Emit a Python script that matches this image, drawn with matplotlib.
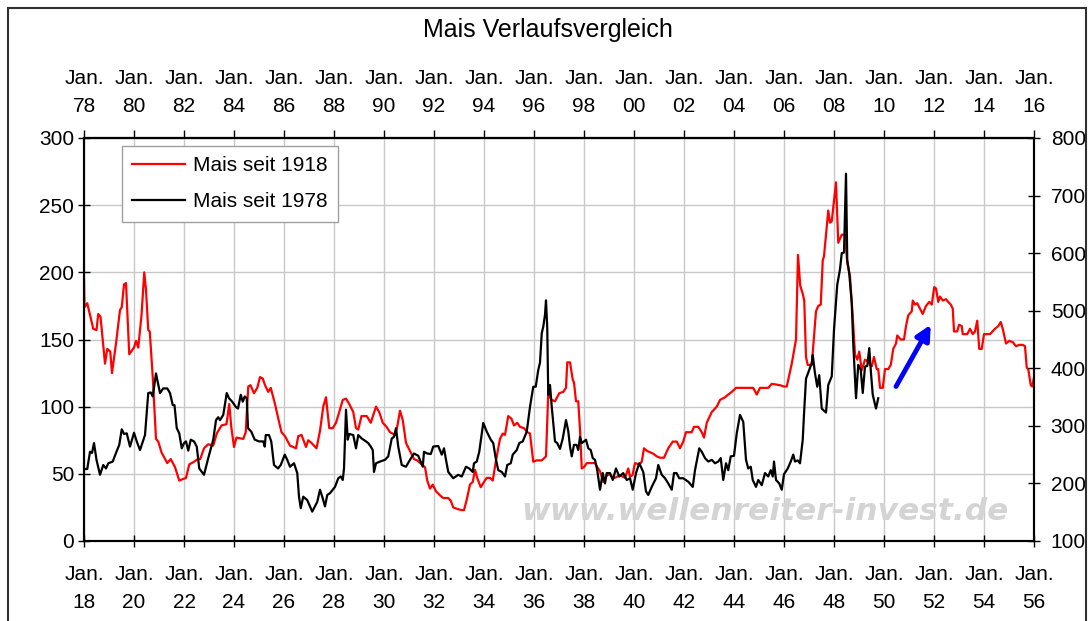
import matplotlib
matplotlib.use('Agg')
import numpy as np
import matplotlib.pyplot as plt
from matplotlib.patches import Rectangle

plt.rcParams['font.family'] = ['Liberation Sans', 'DejaVu Sans']

# ==================== Daten ====================
# Mais seit 1918 (linke Achse), Zeit in Jahren
red_t = [1918.00, 1918.02, 1918.13, 1918.37, 1918.50, 1918.57, 1918.66, 1918.84, 1918.93, 1919.05,
         1919.12, 1919.28, 1919.44, 1919.51, 1919.60, 1919.68, 1919.81, 1920.00, 1920.08, 1920.17,
         1920.30, 1920.41, 1920.48, 1920.57, 1920.63, 1920.75, 1920.88, 1920.97, 1921.10, 1921.33,
         1921.47, 1921.64, 1921.81, 1922.08, 1922.21, 1922.40, 1922.55, 1922.65, 1922.80, 1922.97,
         1923.17, 1923.31, 1923.50, 1923.70, 1923.81, 1923.89, 1924.00, 1924.10, 1924.37, 1924.47,
         1924.57, 1924.66, 1924.80, 1924.93, 1925.04, 1925.15, 1925.24, 1925.37, 1925.47, 1925.64,
         1925.81, 1925.90, 1926.04, 1926.24, 1926.48, 1926.57, 1926.70, 1926.88, 1926.97, 1927.10,
         1927.30, 1927.44, 1927.57, 1927.68, 1927.81, 1927.95, 1928.08, 1928.21, 1928.35, 1928.48,
         1928.61, 1928.77, 1928.88, 1928.97, 1929.10, 1929.31, 1929.47, 1929.68, 1929.81, 1929.95,
         1930.10, 1930.24, 1930.44, 1930.52, 1930.64, 1930.75, 1930.88, 1931.04, 1931.20, 1931.33,
         1931.51, 1931.64, 1931.73, 1931.84, 1931.95, 1932.08, 1932.24, 1932.37, 1932.57, 1932.67,
         1932.77, 1932.91, 1933.10, 1933.20, 1933.30, 1933.44, 1933.55, 1933.64, 1933.73, 1933.87,
         1934.00, 1934.11, 1934.24, 1934.35, 1934.48, 1934.64, 1934.75, 1934.84, 1934.97, 1935.10,
         1935.20, 1935.33, 1935.44, 1935.60, 1935.73, 1935.84, 1935.97, 1936.10, 1936.31, 1936.48,
         1936.57, 1936.64, 1936.71, 1936.84, 1937.01, 1937.17, 1937.28, 1937.33, 1937.44, 1937.55,
         1937.60, 1937.68, 1937.77, 1937.84, 1937.91, 1938.00, 1938.11, 1938.30, 1938.44, 1938.53,
         1938.64, 1938.77, 1938.88, 1939.01, 1939.11, 1939.24, 1939.44, 1939.64, 1939.77, 1939.84,
         1939.94, 1940.04, 1940.21, 1940.31, 1940.40, 1940.53, 1940.77, 1940.91, 1941.04, 1941.20,
         1941.37, 1941.55, 1941.71, 1941.84, 1941.97, 1942.08, 1942.31, 1942.40, 1942.57, 1942.71,
         1942.80, 1942.91, 1943.11, 1943.31, 1943.44, 1943.64, 1943.77, 1943.91, 1944.08, 1944.77,
         1944.91, 1945.04, 1945.37, 1945.51, 1945.84, 1946.00, 1946.11, 1946.31, 1946.48, 1946.56,
         1946.65, 1946.75, 1946.81, 1946.88, 1946.95, 1947.11, 1947.28, 1947.37, 1947.47, 1947.55,
         1947.60, 1947.77, 1947.84, 1947.91, 1948.08, 1948.17, 1948.31, 1948.44, 1948.53, 1948.64,
         1948.75, 1948.84, 1948.93, 1949.01, 1949.11, 1949.24, 1949.33, 1949.51, 1949.60, 1949.71,
         1949.77, 1949.84, 1949.95, 1950.04, 1950.17, 1950.27, 1950.37, 1950.48, 1950.53, 1950.67,
         1950.80, 1950.88, 1950.97, 1951.11, 1951.15, 1951.24, 1951.33, 1951.41, 1951.55, 1951.68,
         1951.81, 1951.91, 1952.01, 1952.08, 1952.17, 1952.24, 1952.35, 1952.48, 1952.57, 1952.67,
         1952.75, 1952.80, 1952.93, 1953.00, 1953.11, 1953.15, 1953.33, 1953.44, 1953.55, 1953.64,
         1953.73, 1953.81, 1953.91, 1954.00, 1954.24, 1954.44, 1954.57, 1954.67, 1954.75, 1954.88,
         1955.01, 1955.15, 1955.28, 1955.41, 1955.55, 1955.64, 1955.71, 1955.77, 1955.87, 1955.93,
         1956.00]
red_v = [195, 174, 177, 158, 157, 169, 167, 132, 143, 141,
         125, 147, 172, 174, 191, 192, 139, 144, 149, 144,
         168, 200, 187, 157, 156, 122, 76, 74, 66, 58,
         61, 55, 45, 47, 57, 59, 61, 61, 69, 72,
         71, 80, 86, 87, 102, 85, 70, 77, 76, 81,
         115, 116, 110, 114, 122, 121, 116, 111, 114, 102,
         88, 81, 78, 71, 69, 78, 79, 70, 75, 73,
         69, 82, 100, 107, 84, 84, 88, 96, 105, 106,
         102, 96, 84, 83, 93, 93, 88, 100, 96, 88,
         85, 81, 79, 84, 97, 90, 73, 67, 61, 60,
         57, 55, 45, 39, 42, 37, 34, 32, 32, 30,
         25, 24, 23, 23, 30, 42, 44, 53, 47, 40,
         44, 47, 47, 45, 60, 76, 80, 79, 93, 91,
         86, 88, 85, 84, 81, 80, 59, 60, 60, 63,
         110, 107, 105, 104, 110, 111, 114, 133, 133, 120,
         118, 104, 104, 83, 54, 55, 58, 58, 58, 55,
         52, 44, 48, 50, 48, 47, 49, 47, 54, 48,
         49, 58, 57, 59, 69, 67, 65, 63, 62, 62,
         69, 74, 74, 69, 74, 81, 81, 85, 85, 81,
         77, 88, 96, 100, 105, 107, 109, 111, 114, 114,
         109, 114, 114, 117, 116, 115, 115, 132, 150, 213,
         190, 184, 179, 137, 131, 131, 171, 175, 176, 209,
         212, 246, 237, 238, 267, 222, 228, 228, 207, 197,
         167, 139, 135, 141, 127, 135, 134, 130, 137, 128,
         128, 114, 114, 128, 128, 131, 143, 147, 153, 150,
         150, 160, 168, 171, 179, 176, 177, 174, 169, 175,
         178, 176, 189, 188, 178, 182, 179, 180, 178, 176,
         173, 156, 156, 161, 160, 154, 154, 158, 154, 156,
         164, 143, 143, 154, 154, 158, 160, 163, 158, 147,
         149, 148, 145, 146, 146, 145, 129, 128, 116, 115,
         122]

# Mais seit 1978 (rechte Achse), Zeit in Jahren
blk_t = [1978.00, 1978.13, 1978.24, 1978.32, 1978.40, 1978.50, 1978.64, 1978.77, 1978.88, 1978.97,
         1979.15, 1979.28, 1979.41, 1979.51, 1979.60, 1979.71, 1979.84, 1980.00, 1980.11, 1980.24,
         1980.44, 1980.57, 1980.67, 1980.75, 1980.88, 1981.04, 1981.17, 1981.33, 1981.44, 1981.55,
         1981.62, 1981.71, 1981.81, 1981.91, 1982.00, 1982.08, 1982.17, 1982.27, 1982.40, 1982.51,
         1982.61, 1982.80, 1982.97, 1983.17, 1983.28, 1983.37, 1983.44, 1983.57, 1983.71, 1983.80,
         1983.93, 1984.07, 1984.16, 1984.27, 1984.35, 1984.43, 1984.51, 1984.56, 1984.69, 1984.83,
         1985.00, 1985.17, 1985.23, 1985.27, 1985.40, 1985.49, 1985.60, 1985.76, 1985.87, 1986.03,
         1986.13, 1986.24, 1986.40, 1986.53, 1986.60, 1986.67, 1986.77, 1986.93, 1987.13, 1987.33,
         1987.44, 1987.53, 1987.64, 1987.73, 1987.84, 1987.95, 1988.04, 1988.17, 1988.27, 1988.35,
         1988.40, 1988.48, 1988.55, 1988.61, 1988.77, 1988.88, 1988.97, 1989.11, 1989.28, 1989.37,
         1989.47, 1989.55, 1989.60, 1989.68, 1989.84, 1990.04, 1990.17, 1990.31, 1990.40, 1990.48,
         1990.57, 1990.71, 1990.88, 1991.04, 1991.20, 1991.37, 1991.55, 1991.60, 1991.73, 1991.87,
         1991.97, 1992.17, 1992.31, 1992.40, 1992.48, 1992.57, 1992.77, 1992.97, 1993.11, 1993.28,
         1993.41, 1993.55, 1993.60, 1993.71, 1993.81, 1993.97, 1994.11, 1994.27, 1994.37, 1994.48,
         1994.57, 1994.71, 1994.84, 1994.93, 1995.07, 1995.15, 1995.31, 1995.41, 1995.55, 1995.71,
         1995.84, 1995.97, 1996.07, 1996.17, 1996.24, 1996.31, 1996.37, 1996.44, 1996.48, 1996.53,
         1996.57, 1996.64, 1996.71, 1996.84, 1996.93, 1997.04, 1997.15, 1997.28, 1997.37, 1997.44,
         1997.51, 1997.60, 1997.70, 1997.77, 1997.84, 1997.91, 1998.00, 1998.08, 1998.17, 1998.27,
         1998.35, 1998.44, 1998.53, 1998.64, 1998.75, 1998.84, 1998.91, 1999.04, 1999.15, 1999.28,
         1999.41, 1999.57, 1999.71, 1999.84, 1999.95, 2000.08, 2000.21, 2000.37, 2000.48, 2000.57,
         2000.71, 2000.88, 2000.97, 2001.11, 2001.24, 2001.37, 2001.51, 2001.60, 2001.70, 2001.81,
         2001.97, 2002.17, 2002.35, 2002.44, 2002.61, 2002.71, 2002.84, 2002.97, 2003.11, 2003.24,
         2003.37, 2003.47, 2003.57, 2003.68, 2003.77, 2003.87, 2004.00, 2004.11, 2004.24, 2004.37,
         2004.48, 2004.57, 2004.67, 2004.75, 2004.88, 2004.97, 2005.11, 2005.24, 2005.37, 2005.47,
         2005.55, 2005.60, 2005.68, 2005.81, 2005.91, 2006.00, 2006.15, 2006.27, 2006.37, 2006.44,
         2006.55, 2006.64, 2006.75, 2006.80, 2006.88, 2007.01, 2007.11, 2007.15, 2007.24, 2007.33,
         2007.41, 2007.51, 2007.68, 2007.77, 2007.91, 2008.00, 2008.13, 2008.24, 2008.31, 2008.40,
         2008.48, 2008.53, 2008.61, 2008.71, 2008.77, 2008.88, 2008.97, 2009.07, 2009.15, 2009.24,
         2009.33, 2009.41, 2009.47, 2009.55, 2009.68, 2009.77]
blk_v = [225, 225, 255, 253, 270, 241, 215, 232, 226, 235,
         238, 253, 267, 294, 286, 287, 264, 288, 273, 258,
         284, 357, 358, 351, 391, 357, 365, 365, 357, 336,
         336, 296, 287, 261, 270, 273, 257, 276, 273, 264,
         226, 215, 244, 276, 310, 315, 310, 319, 357, 348,
         342, 333, 330, 354, 342, 351, 348, 296, 290, 276,
         273, 273, 264, 284, 284, 273, 232, 226, 232, 250,
         241, 229, 235, 218, 177, 157, 177, 171, 151, 168,
         189, 177, 160, 180, 183, 189, 194, 209, 212, 206,
         226, 328, 276, 286, 284, 261, 284, 278, 273, 270,
         264, 258, 220, 235, 238, 241, 247, 278, 281, 296,
         264, 232, 229, 241, 252, 248, 229, 255, 252, 251,
         264, 265, 250, 261, 241, 220, 209, 215, 212, 229,
         226, 220, 235, 238, 255, 305, 290, 276, 270, 241,
         223, 220, 212, 232, 235, 250, 258, 270, 273, 290,
         333, 368, 368, 397, 410, 461, 472, 493, 518, 470,
         354, 371, 333, 273, 270, 260, 278, 310, 291, 264,
         247, 267, 267, 258, 281, 270, 273, 276, 261, 258,
         244, 241, 223, 189, 218, 200, 218, 218, 206, 226,
         212, 218, 206, 209, 189, 218, 235, 220, 186, 180,
         194, 209, 232, 215, 209, 200, 189, 218, 218, 209,
         209, 203, 194, 223, 261, 255, 244, 238, 241, 235,
         238, 244, 206, 235, 223, 247, 248, 287, 319, 307,
         241, 226, 229, 206, 194, 206, 197, 218, 212, 223,
         212, 238, 206, 200, 189, 216, 226, 238, 250, 238,
         240, 235, 276, 320, 382, 397, 409, 423, 391, 368,
         388, 330, 323, 371, 386, 467, 545, 572, 600, 601,
         738, 588, 565, 513, 443, 348, 406, 397, 357, 403,
         404, 435, 397, 354, 330, 348]

bottom_years = list(range(1918, 1957, 2))
top_years = list(range(1978, 2017, 2))
bottom_labels = ['Jan.\n%02d' % (y % 100) for y in bottom_years]
top_labels = ['Jan.\n%02d' % (y % 100) for y in top_years]
offset = 60  # 1978-Verlauf gegen 1918-Verlauf verschoben

# ==================== Grafik ====================
fig = plt.figure(figsize=(10.88, 6.21), dpi=100)
ax = fig.add_axes([84 / 1088, 80 / 621, 950 / 1088, 403 / 621])
ax2 = ax.twinx()

fs = 15

ax.plot(red_t, red_v, color='#ff0000', lw=1.6, label='Mais seit 1918', zorder=3)
ax2.plot(np.array(blk_t) - offset, blk_v, color='black', lw=1.6, label='Mais seit 1978', zorder=3)

ax.set_xlim(1918, 1956)
ax.set_ylim(0, 300)
ax.set_yticks(range(0, 301, 50))
ax2.set_ylim(100, 800)
ax2.set_yticks(range(100, 801, 100))

ax.set_xticks(bottom_years)
ax.set_xticklabels(bottom_labels, fontsize=fs, linespacing=1.6)
ax.tick_params(axis='x', direction='inout', length=8, width=1, pad=13)
ax.tick_params(axis='y', direction='inout', length=8, width=1, pad=3, labelsize=fs)
ax2.tick_params(axis='y', direction='inout', length=8, width=1, pad=8, labelsize=fs)

top = ax.secondary_xaxis('top', functions=(lambda x: x + offset, lambda x: x - offset))
top.set_xticks(top_years)
top.set_xticklabels(top_labels, fontsize=fs, linespacing=1.6)
top.tick_params(axis='x', direction='out', length=6, width=1, pad=10)

ax.grid(True, color='#c8c8c8', lw=1)
ax.set_axisbelow(True)
for a in (ax, ax2):
    for s in a.spines.values():
        s.set_linewidth(1.5)
top.spines['top'].set_linewidth(1.5)

# Wasserzeichen
ax.text(0.717, 0.072, 'www.wellenreiter-invest.de', transform=ax.transAxes,
        fontsize=22.5, style='italic', weight='bold', family='DejaVu Sans', color='#d4d4d4',
        ha='center', va='center', zorder=1)

# Pfeil
ax.annotate('', xy=(1951.87, 161), xytext=(1950.48, 115),
            arrowprops=dict(arrowstyle='-|>', color='#0000ff', lw=3.5,
                            mutation_scale=22, shrinkA=0, shrinkB=0), zorder=4)

# Legende
h1, l1 = ax.get_legend_handles_labels()
h2, l2 = ax2.get_legend_handles_labels()
leg = ax2.legend(h1 + h2, l1 + l2, loc='upper left', bbox_to_anchor=(0.04, 0.98),
                 borderaxespad=0, fontsize=fs, frameon=True, fancybox=False,
                 edgecolor='#a0a0a0', framealpha=1, handlelength=2.5,
                 handletextpad=0.4, labelspacing=0.8, borderpad=0.5)
leg.get_frame().set_linewidth(1)

fig.text(548 / 1088, 1 - 30 / 621, 'Mais Verlaufsvergleich', fontsize=18,
         ha='center', va='center')

# Rahmen
fig.patches.append(Rectangle((7.5 / 1088, -0.05), (1086 - 7.5) / 1088, 1.05 - 8.3 / 621,
                             transform=fig.transFigure, fill=False,
                             edgecolor='#303030', lw=1.5))

plt.savefig('out.png', dpi=100)
